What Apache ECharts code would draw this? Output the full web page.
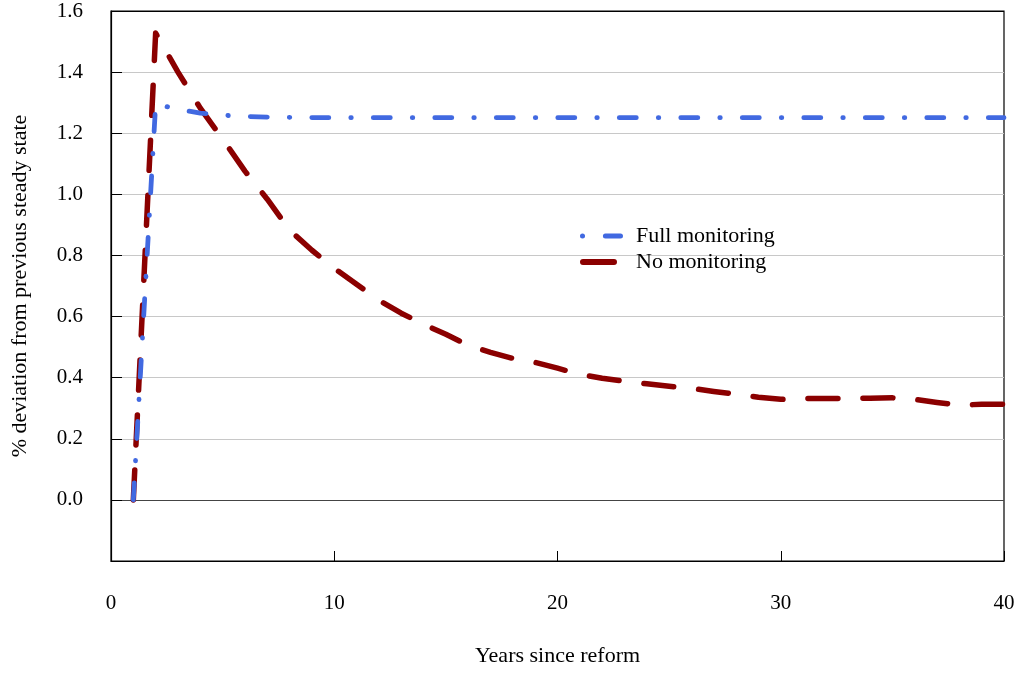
<!DOCTYPE html>
<html>
<head>
<meta charset="utf-8">
<script src="https://cdn.jsdelivr.net/npm/echarts@6/dist/echarts.min.js"></script>
<style>
html,body{margin:0;padding:0;background:#fff;}
#chart{width:1021px;height:673px;}
</style>
</head>
<body>
<div id="chart"></div>
<script>
const years = [1,2,3,4,5,6,7,8,9,10,11,12,13,14,15,16,17,18,19,20,21,22,23,24,25,26,27,28,29,30,31,32,33,34,35,36,37,38,39,40];
const fullMonitoring = [0,1.295,1.279,1.266,1.259,1.255,1.253,1.252,1.251,1.251,1.251,1.251,1.251,1.251,1.251,1.251,1.251,1.251,1.251,1.251,1.251,1.251,1.251,1.251,1.251,1.251,1.251,1.251,1.251,1.251,1.251,1.251,1.251,1.251,1.251,1.251,1.251,1.251,1.251,1.251];
const noMonitoring = [0,1.528,1.400,1.282,1.181,1.076,0.984,0.883,0.817,0.758,0.706,0.653,0.611,0.575,0.542,0.506,0.483,0.463,0.450,0.431,0.411,0.398,0.388,0.380,0.372,0.365,0.355,0.346,0.336,0.329,0.332,0.332,0.332,0.333,0.334,0.329,0.319,0.310,0.313,0.313];
const seriesNames = ['Full monitoring','No monitoring'];
const xLabel = 'Years since reform';
const yLabel = '% deviation from previous steady state';

const font = 'Liberation Serif';
// legend glyphs: blue dot + dash, red long dash (43 x 6 box)
const blueIcon = 'path://M0.2,3 A2.5,2.5 0 1,0 5.2,3 A2.5,2.5 0 1,0 0.2,3 Z M25.5,0.5 L40.5,0.5 A2.5,2.5 0 0,1 40.5,5.5 L25.5,5.5 A2.5,2.5 0 0,1 25.5,0.5 Z';
const redIcon = 'path://M3,0 L34,0 A3,3 0 0,1 34,6 L3,6 A3,3 0 0,1 3,0 Z M42.9,2.9 L43,2.9 L43,3 L42.9,3 Z';

const chart = echarts.init(document.getElementById('chart'), null, {renderer:'canvas'});
chart.setOption({
  animation:false,
  backgroundColor:'#fff',
  textStyle:{fontFamily:font},
  grid:{left:111,right:17,top:11,bottom:112,show:true,borderColor:'#000',borderWidth:1.2,containLabel:false},
  legend:{
    left:575, top:220, orient:'vertical',
    itemWidth:43, itemHeight:6, itemGap:4,
    textStyle:{fontFamily:font,fontSize:22,lineHeight:22,color:'#000',padding:[0,0,0,8]},
    data:[{name:seriesNames[0],icon:blueIcon},{name:seriesNames[1],icon:redIcon}]
  },
  xAxis:{
    type:'value', min:0, max:40, interval:10,
    name:xLabel, nameLocation:'middle', nameGap:84,
    nameTextStyle:{fontFamily:font,fontSize:22,color:'#000'},
    axisLine:{show:true,onZero:false,lineStyle:{color:'#000',width:1.2}},
    axisTick:{show:true,inside:true,length:10,lineStyle:{color:'#000'}},
    axisLabel:{margin:32,fontFamily:font,fontSize:21,color:'#000'},
    splitLine:{show:false}
  },
  yAxis:{
    type:'value', min:-0.2, max:1.6, interval:0.2,
    name:yLabel, nameLocation:'middle', nameGap:80, nameRotate:90,
    nameTextStyle:{fontFamily:font,fontSize:22,color:'#000'},
    axisLine:{show:true,lineStyle:{color:'#000',width:1.2}},
    axisTick:{show:true,inside:true,length:11,lineStyle:{color:'#000'}},
    axisLabel:{margin:28,fontFamily:font,fontSize:21,color:'#000',
      formatter:function(v){return v < -0.01 ? '' : v.toFixed(1);}},
    splitLine:{show:true,lineStyle:{color:['#000','#444','#c8c8c8','#c8c8c8','#c8c8c8','#c8c8c8','#c8c8c8','#c8c8c8','#c8c8c8','#000'],width:1.2}}
  },
  series:[
    {
      name:seriesNames[0], type:'line', showSymbol:false, symbol:'none', z:3,
      data:years.map((x,i)=>[x,fullMonitoring[i]]),
      lineStyle:{color:'#4169E1',width:4.8,type:[17,22,0.5,22],cap:'round',join:'round'},
      itemStyle:{color:'#4169E1'}
    },
    {
      name:seriesNames[1], type:'line', showSymbol:false, symbol:'none', z:2,
      data:years.map((x,i)=>[x,noMonitoring[i]]),
      lineStyle:{color:'#8B0000',width:5.5,type:[30,25],cap:'round',join:'round'},
      itemStyle:{color:'#8B0000'}
    }
  ]
});
</script>
</body>
</html>
